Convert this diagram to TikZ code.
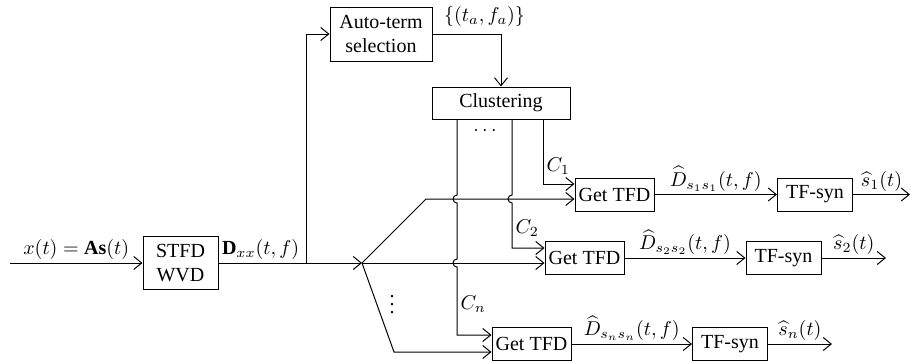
\documentclass[tikz,border=0pt]{standalone}
\usepackage{fontspec}
\setmainfont{Liberation Serif}
\usetikzlibrary{arrows.meta, calc}

\begin{document}
\begin{tikzpicture}[x=0.5pt, y=-0.5pt, >={Straight Barb[length=4pt,width=6.5pt]}, line width=0.5pt,
  blk/.style={draw, inner sep=1pt, align=center, minimum height=16.5pt},
  tfdbox/.style={blk, minimum width=39.5pt},
  synbox/.style={blk, minimum width=37.5pt},
  lbl/.style={inner sep=1.5pt}]
  \useasboundingbox (0,0) rectangle (912,364);
  % --- front end ---
  \node[blk, minimum width=37.5pt, minimum height=26.5pt] (stfd) at (180.5,263) {STFD\\WVD};
  \node[blk, minimum width=51pt, minimum height=27pt] (auto) at (381,34) {Auto-term\\selection};
  \node[blk, minimum width=69pt, minimum height=16pt] (clus) at (501,103) {Clustering};
  \coordinate (in) at (10,263);
  \coordinate (jn) at (306,263);
  \coordinate (sp) at (362,263);
  \draw[->] (in) -- node[lbl, above]{$x(t) = \mathbf{A}\mathbf{s}(t)$} (stfd);
  \draw[->] (stfd) -- (sp);
  \node[lbl, above right] at (stfd.east) {$\mathbf{D}_{xx}(t, f)$};
  \draw[->] (jn) |- (auto);
  \draw[->] (auto.east) -| node[lbl, pos=0.38, above=2pt]{$\{(t_a, f_a)\}$} (clus.north);
  \node at (485,131) {$\cdots$};
  \node at (392,299) {$\vdots$};
  % --- one chain per source ---
  \node[tfdbox] (tfd1) at (614.5,194.5) {Get TFD};
  \node[synbox] (syn1) at (815,194.5) {TF-syn};
  \node[tfdbox] (tfd2) at (584.5,258) {Get TFD};
  \node[synbox] (syn2) at (783.5,258) {TF-syn};
  \node[tfdbox] (tfdn) at (531.5,344) {Get TFD};
  \node[synbox] (synn) at (730,344) {TF-syn};
  \coordinate (out1) at (910,194.5);
  \coordinate (out2) at (886,258);
  \coordinate (outn) at (832,344);
  \draw[->] (tfd1) -- node[lbl, above]{$\widehat{D}_{s_1s_1}(t, f)$} (syn1);
  \draw[->] (syn1) -- node[lbl, above]{$\widehat{s}_1(t)$} (out1);
  \draw[->] (tfd2) -- node[lbl, above]{$\widehat{D}_{s_2s_2}(t, f)$} (syn2);
  \draw[->] (syn2) -- node[lbl, above]{$\widehat{s}_2(t)$} (out2);
  \draw[->] (tfdn) -- node[lbl, above]{$\widehat{D}_{s_ns_n}(t, f)$} (synn);
  \draw[->] (synn) -- node[lbl, above]{$\widehat{s}_n(t)$} (outn);
  % --- branches of the split ---
  \coordinate (b1) at ($(tfd1.west)+(0,4.5)$);
  \coordinate (b2) at ($(tfd2.west)+(0,5)$);
  \coordinate (bn) at ($(tfdn.west)+(0,8)$);
  \coordinate (ub) at (426,199);
  \coordinate (lb) at (394,352);
  \draw[->] (sp) -- (ub) -- (b1);
  \draw[->] (sp) -- (b2);
  \draw[->] (sp) -- (lb) -- (bn);
  % --- cluster outputs, hopping over the branches ---
  \coordinate (k1) at ($(clus.south)+(42,0)$);
  \coordinate (k2) at ($(clus.south)+(11,0)$);
  \coordinate (k3) at ($(clus.south)+(-44,0)$);
  \coordinate (e1) at ($(tfd1.west)+(0,-10.5)$);
  \coordinate (e2) at ($(tfd2.west)+(0,-10)$);
  \coordinate (en) at ($(tfdn.west)+(0,-9)$);
  \draw[->] (k1) |- node[lbl, pos=0.36, right]{$C_1$} (e1);
  \draw[->] (k2) -- ($(k2 |- b1)+(0,-4)$) arc[start angle=90, end angle=270, radius=2pt]
    -- (k2 |- e2) node[lbl, pos=0.55, right]{$C_2$} -- (e2);
  \draw[->] (k3) -- ($(k3 |- b1)+(0,-4)$) arc[start angle=90, end angle=270, radius=2pt]
    -- ($(k3 |- b2)+(0,-4)$) arc[start angle=90, end angle=270, radius=2pt]
    -- (k3 |- en) node[lbl, pos=0.55, right]{$C_n$} -- (en);
\end{tikzpicture}
\end{document}
